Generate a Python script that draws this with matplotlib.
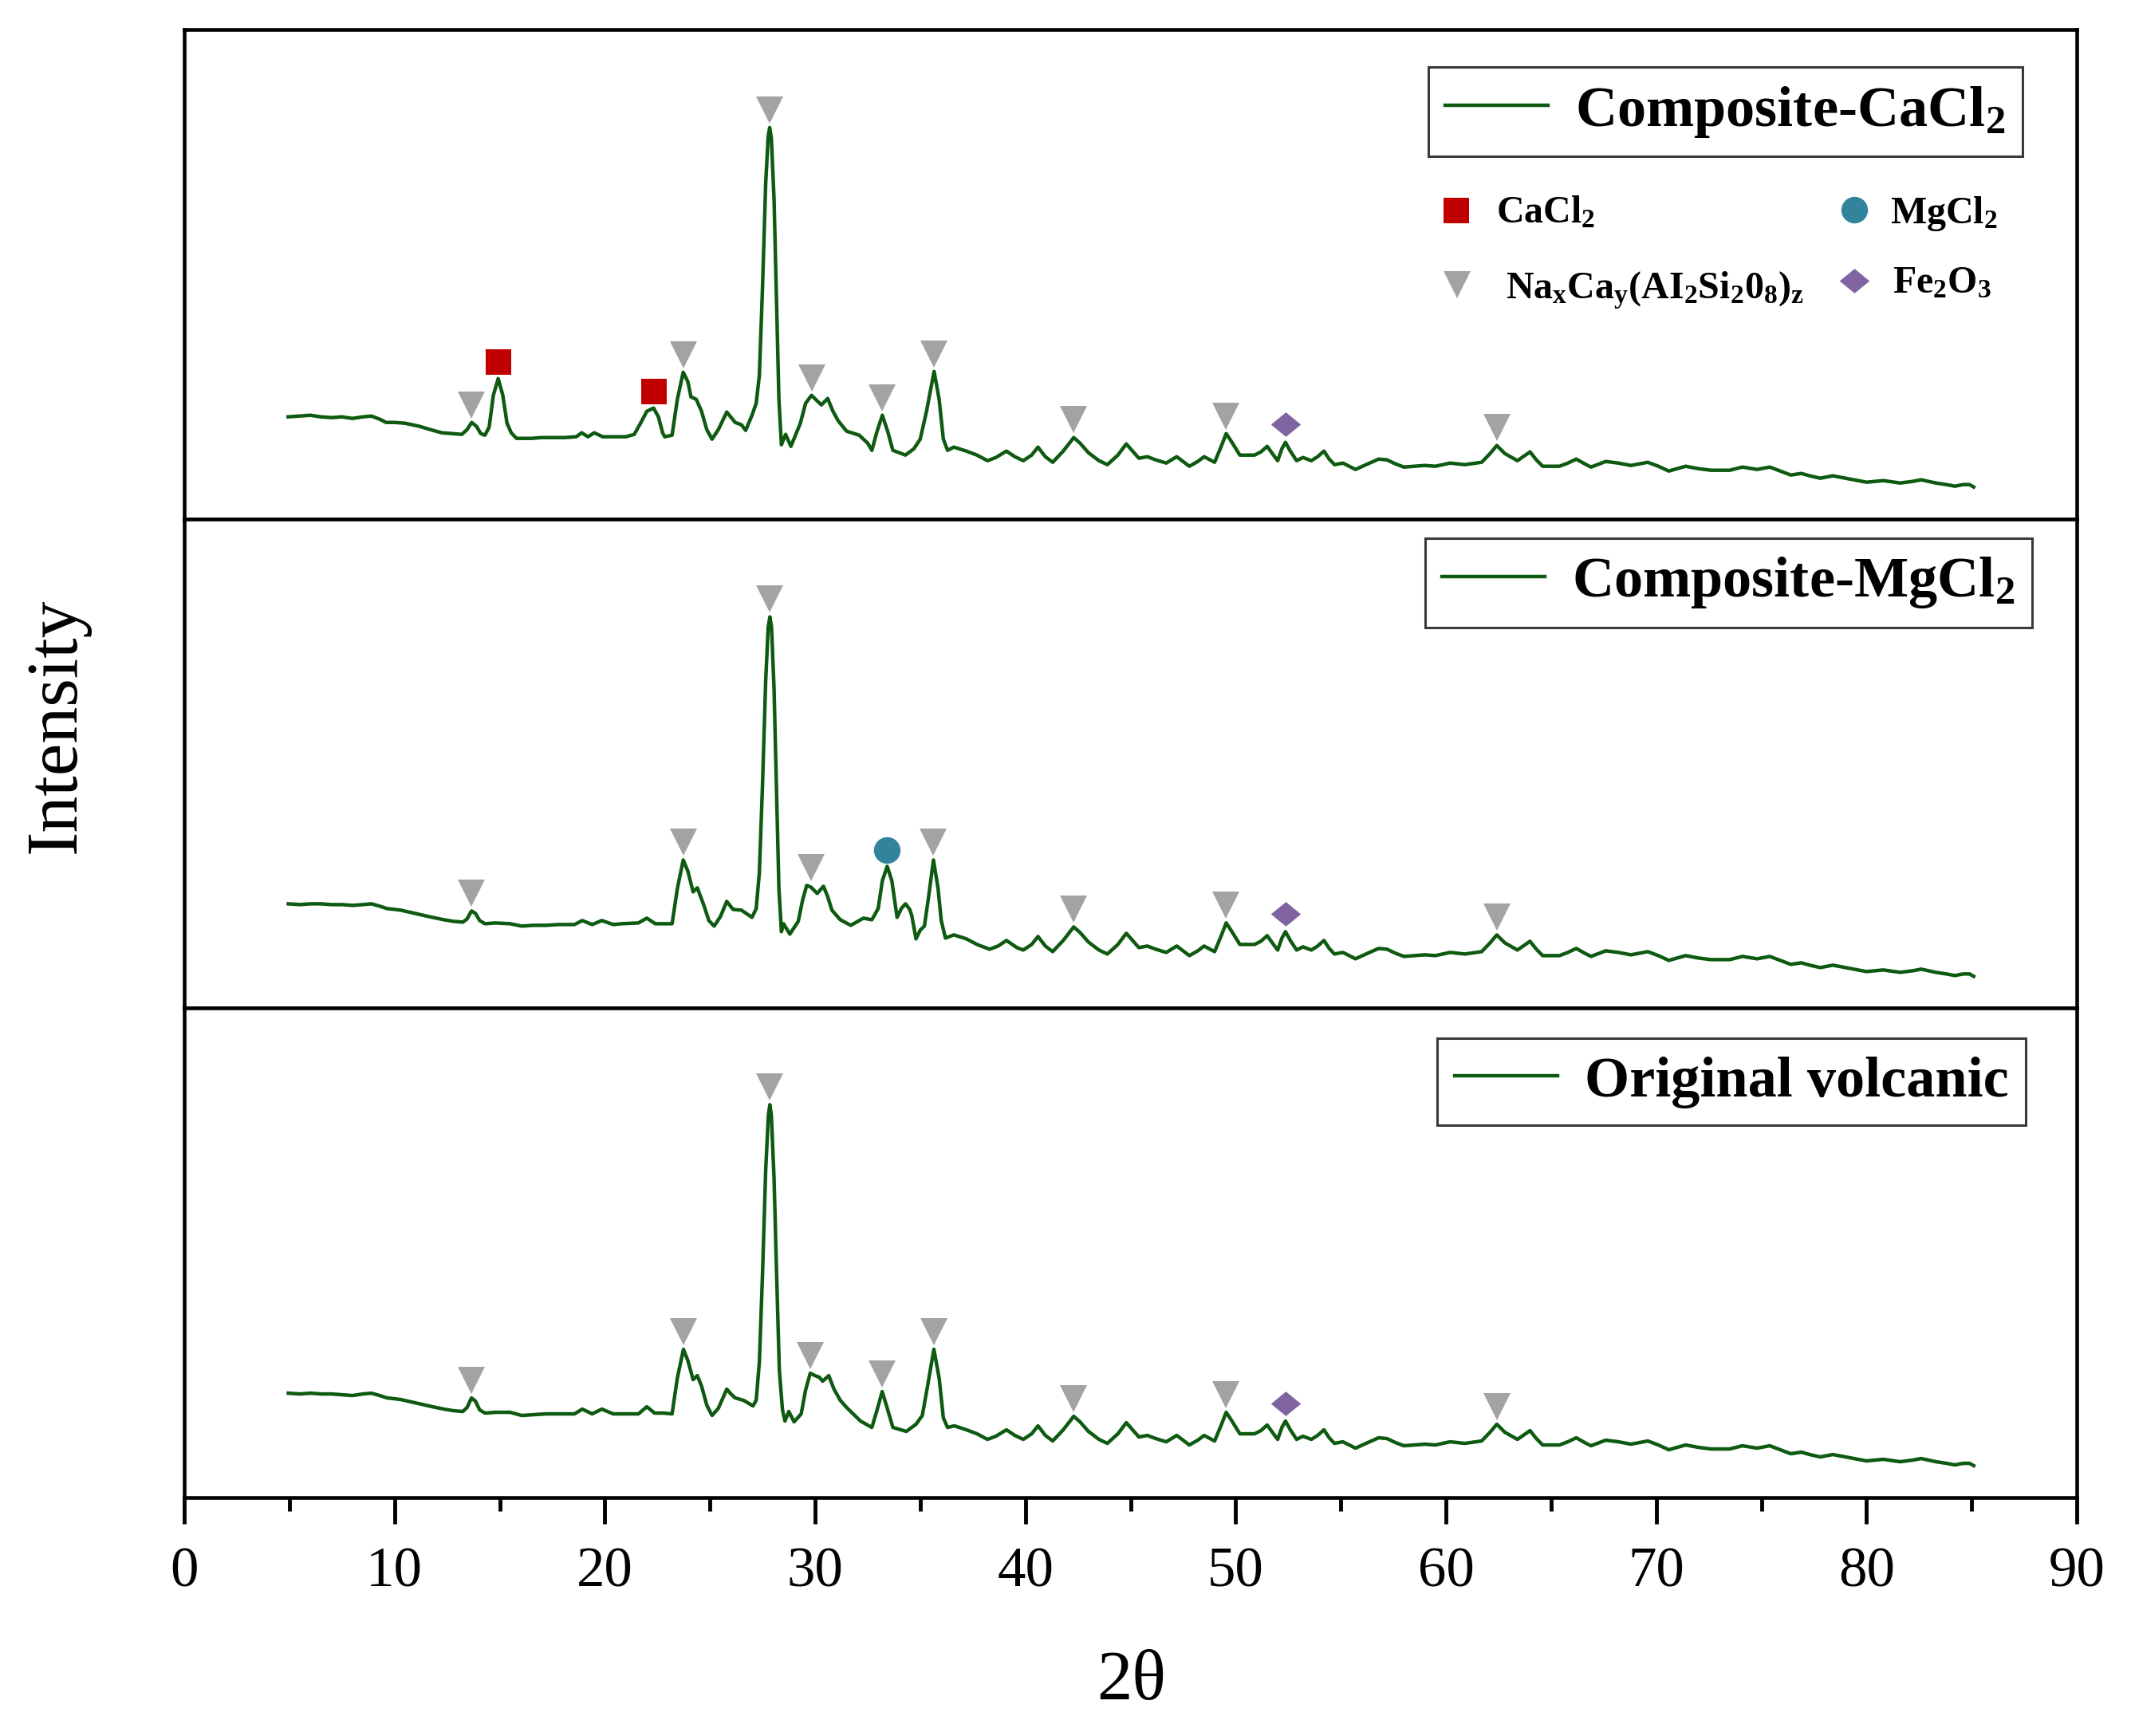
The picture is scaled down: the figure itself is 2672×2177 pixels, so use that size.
import numpy as np
import matplotlib
matplotlib.use("Agg")
import matplotlib.pyplot as plt
from matplotlib.transforms import offset_copy
from matplotlib.path import Path

plt.rcParams['font.family'] = ['Liberation Serif', 'DejaVu Serif']
plt.rcParams['mathtext.fontset'] = 'custom'
plt.rcParams['mathtext.rm'] = 'Liberation Serif'
plt.rcParams['mathtext.bf'] = 'Liberation Serif:bold'
plt.rcParams['mathtext.it'] = 'Liberation Serif:italic'

# ---------------- data (2theta, intensity a.u.) ----------------
ori_theta = [4.95, 5.5, 6.0, 6.5, 7.0, 7.5, 8.0, 8.5, 8.9, 9.3, 9.65, 10.0, 10.3, 10.8, 11.3, 11.8,
             12.35, 12.8, 13.25, 13.45, 13.66, 13.85, 14.05, 14.3, 14.8, 15.5, 16.05, 16.6, 17.2, 17.8,
             18.56, 18.93, 19.4, 19.86, 20.4, 21.0, 21.6, 22.0, 22.37, 22.8, 23.2, 23.45, 23.74, 23.95,
             24.2, 24.4, 24.6, 24.85, 25.1, 25.4, 25.8, 26.0, 26.2, 26.6, 27.05, 27.2, 27.35, 27.5,
             27.65, 27.78, 27.85, 27.92, 28.05, 28.15, 28.3, 28.45, 28.57, 28.75, 29.0, 29.34, 29.55,
             29.77, 30.0, 30.2, 30.36, 30.65, 30.9, 31.2, 31.5, 32.16, 32.7, 32.95, 33.19, 33.4, 33.7,
             34.34, 34.8, 35.1, 35.35, 35.65, 35.9, 36.1, 36.3, 36.63, 37.2, 37.7, 38.2, 38.6, 39.1,
             39.5, 39.9, 40.3, 40.6, 40.95, 41.3, 41.8, 42.3, 42.6, 43.0, 43.5, 43.9, 44.4, 44.8, 45.1,
             45.4, 45.8, 46.2, 46.7, 47.2, 47.5, 47.8, 48.2, 48.5, 49.0, 49.3, 49.55, 49.8, 50.2, 50.9,
             51.2, 51.5, 51.8, 52.0, 52.2, 52.37, 52.6, 52.9, 53.2, 53.6, 53.9, 54.2, 54.45, 54.7, 55.1,
             55.7, 56.2, 56.8, 57.2, 57.6, 58.0, 58.5, 59.0, 59.5, 60.2, 60.9, 61.7, 62.1, 62.42, 62.8,
             63.4, 64.0, 64.3, 64.6, 65.4, 65.8, 66.2, 66.6, 66.9, 67.6, 68.2, 68.8, 69.6, 70.1, 70.6,
             71.0, 71.4, 72.0, 72.6, 73.5, 74.1, 74.8, 75.4, 75.9, 76.4, 76.9, 77.3, 77.8, 78.4, 79.2,
             80.0, 80.8, 81.6, 82.2, 82.6, 83.3, 83.8, 84.2, 84.6, 84.9, 85.1]
ori_int = [131, 130, 131, 130, 130, 129, 128, 130, 131, 128, 125, 124, 123, 120, 117, 114,
           111, 109, 108, 113, 125, 121, 110, 106, 107, 107, 103, 104, 105, 105,
           105, 111, 105, 111, 105, 105, 105, 114, 106, 106, 105, 150, 186, 172,
           148, 153, 140, 116, 103, 112, 136, 130, 125, 122, 115, 122, 170, 280,
           410, 480, 493, 480, 400, 300, 160, 110, 96, 108, 95, 105, 135,
           156, 153, 151, 146, 153, 136, 122, 113, 96, 88, 110, 133, 115, 88,
           83, 92, 103, 140, 186, 150, 100, 88, 90, 85, 80, 73, 77, 85,
           78, 73, 80, 90, 78, 71, 85, 102, 95, 83, 73, 68, 80, 94, 85,
           76, 78, 74, 70, 78, 72, 66, 72, 78, 71, 90, 107, 97, 80, 80,
           84, 91, 80, 73, 88, 96, 85, 73, 77, 73, 78, 85, 75, 68, 70,
           62, 68, 75, 74, 69, 65, 66, 67, 66, 70, 68, 71, 82, 92, 82,
           73, 84, 74, 66, 66, 70, 75, 69, 65, 72, 70, 67, 71, 66, 60,
           63, 66, 63, 61, 61, 65, 62, 65, 60, 55, 57, 54, 51, 54, 50,
           46, 48, 45, 47, 49, 45, 43, 41, 43, 43, 40]

mg_theta = [4.95, 5.5, 6.0, 6.5, 7.0, 7.5, 8.0, 8.5, 8.9, 9.3, 9.65, 10.0, 10.3, 10.8, 11.3, 11.8,
            12.35, 12.8, 13.25, 13.45, 13.66, 13.85, 14.05, 14.3, 14.8, 15.5, 16.05, 16.6, 17.2, 17.8,
            18.56, 18.93, 19.4, 19.86, 20.4, 20.8, 21.6, 22.0, 22.4, 23.2, 23.45, 23.73, 23.95, 24.2,
            24.4, 24.7, 24.95, 25.2, 25.5, 25.8, 26.1, 26.5, 27.0, 27.2, 27.35, 27.5, 27.65, 27.77,
            27.85, 27.93, 28.05, 28.15, 28.28, 28.4, 28.5, 28.8, 29.2, 29.4, 29.6, 29.8, 30.1, 30.4,
            30.6, 30.8, 31.2, 31.7, 32.3, 32.7, 33.0, 33.2, 33.43, 33.65, 33.9, 34.1, 34.3, 34.5, 34.6,
            34.8, 35.0, 35.2, 35.4, 35.63, 35.85, 36.0, 36.2, 36.6, 37.2, 37.7, 38.3, 38.7, 39.1, 39.6,
            39.9, 40.3, 40.6, 40.95, 41.3, 41.8, 42.3, 42.6, 43.0, 43.5, 43.9, 44.4, 44.8, 45.1,
            45.4, 45.8, 46.2, 46.7, 47.2, 47.5, 47.8, 48.2, 48.5, 49.0, 49.3, 49.55, 49.8, 50.2, 50.9,
            51.2, 51.5, 51.8, 52.0, 52.2, 52.37, 52.6, 52.9, 53.2, 53.6, 53.9, 54.2, 54.45, 54.7, 55.1,
            55.7, 56.2, 56.8, 57.2, 57.6, 58.0, 58.5, 59.0, 59.5, 60.2, 60.9, 61.7, 62.1, 62.42, 62.8,
            63.4, 64.0, 64.3, 64.6, 65.4, 65.8, 66.2, 66.6, 66.9, 67.6, 68.2, 68.8, 69.6, 70.1, 70.6,
            71.0, 71.4, 72.0, 72.6, 73.5, 74.1, 74.8, 75.4, 75.9, 76.4, 76.9, 77.3, 77.8, 78.4, 79.2,
            80.0, 80.8, 81.6, 82.2, 82.6, 83.3, 83.8, 84.2, 84.6, 84.9, 85.1]
mg_int = [131, 130, 131, 131, 130, 130, 129, 130, 131, 128, 125, 124, 123, 120, 117, 114,
          111, 109, 108, 112, 122, 119, 110, 106, 107, 106, 103, 104, 104, 105,
          105, 110, 105, 110, 105, 106, 107, 113, 106, 106, 150, 186, 172, 146,
          151, 130, 110, 103, 115, 134, 124, 123, 114, 125, 170, 280, 410, 478,
          491, 478, 400, 290, 150, 96, 106, 93, 109, 135, 154, 152, 144, 153,
          140, 123, 111, 104, 113, 111, 125, 160, 178, 160, 114, 125, 131, 124, 116,
          87, 98, 103, 140, 186, 150, 110, 88, 92, 87, 80, 74, 78, 85, 76,
          73, 80, 90, 78, 71, 85, 102, 95, 83, 73, 68, 80, 94, 85,
          76, 78, 74, 70, 78, 72, 66, 72, 78, 71, 90, 107, 97, 80, 80,
          84, 91, 80, 73, 88, 96, 85, 73, 77, 73, 78, 85, 75, 68, 70,
          62, 68, 75, 74, 69, 65, 66, 67, 66, 70, 68, 71, 82, 92, 82,
          73, 84, 74, 66, 66, 70, 75, 69, 65, 72, 70, 67, 71, 66, 60,
          63, 66, 63, 61, 61, 65, 62, 65, 60, 55, 57, 54, 51, 54, 50,
          46, 48, 45, 47, 49, 45, 43, 41, 43, 43, 40]

ca_theta = [4.94, 5.5, 6.0, 6.5, 7.0, 7.5, 8.0, 8.5, 8.9, 9.3, 9.6, 10.0, 10.5, 11.2, 11.7, 12.25,
            12.7, 13.2, 13.45, 13.67, 13.9, 14.1, 14.3, 14.5, 14.7, 14.93, 15.15, 15.35, 15.55, 15.8,
            16.5, 17.0, 17.5, 18.1, 18.64, 18.9, 19.2, 19.5, 19.9, 20.5, 21.0, 21.4, 21.7, 22.0, 22.32,
            22.55, 22.75, 22.85, 23.2, 23.45, 23.73, 23.95, 24.1, 24.35, 24.6, 24.85, 25.1, 25.4, 25.8,
            26.2, 26.5, 26.7, 27.0, 27.2, 27.35, 27.5, 27.65, 27.77, 27.84, 27.92, 28.05, 28.15, 28.28,
            28.4, 28.6, 28.85, 29.3, 29.55, 29.83, 30.1, 30.3, 30.6, 30.85, 31.1, 31.5, 32.1, 32.5, 32.7,
            32.95, 33.2, 33.45, 33.7, 34.3, 34.7, 35.0, 35.3, 35.66, 35.9, 36.1, 36.3, 36.6, 37.2, 37.7,
            38.2, 38.6, 39.1, 39.5, 39.9, 40.3, 40.6, 40.95, 41.3, 41.8, 42.3, 42.6, 43.0, 43.5, 43.9,
            44.4, 44.8, 45.1, 45.4, 45.8, 46.2, 46.7, 47.2, 47.5, 47.8, 48.2, 48.5, 49.0, 49.3, 49.55,
            49.8, 50.2, 50.9, 51.2, 51.5, 51.8, 52.0, 52.2, 52.37, 52.6, 52.9, 53.2, 53.6, 53.9, 54.2,
            54.45, 54.7, 55.1, 55.7, 56.2, 56.8, 57.2, 57.6, 58.0, 58.5, 59.0, 59.5, 60.2, 60.9, 61.7,
            62.1, 62.42, 62.8, 63.4, 64.0, 64.3, 64.6, 65.4, 65.8, 66.2, 66.6, 66.9, 67.6, 68.2, 68.8,
            69.6, 70.1, 70.6, 71.0, 71.4, 72.0, 72.6, 73.5, 74.1, 74.8, 75.4, 75.9, 76.4, 76.9, 77.3,
            77.8, 78.4, 79.2, 80.0, 80.8, 81.6, 82.2, 82.6, 83.3, 83.8, 84.2, 84.6, 84.9, 85.1]
ca_int = [128, 129, 130, 128, 127, 128, 126, 128, 129, 125, 121, 121, 120, 116, 112, 108,
          107, 106, 112, 121, 116, 107, 105, 115, 155, 176, 155, 120, 108, 101,
          101, 102, 102, 102, 103, 108, 103, 108, 103, 103, 103, 106, 120, 135, 139,
          128, 108, 103, 105, 150, 184, 172, 153, 150, 135, 112, 100, 112, 134,
          121, 118, 111, 130, 145, 180, 290, 420, 480, 491, 478, 400, 290, 150,
          93, 106, 91, 120, 145, 155, 148, 143, 151, 135, 123, 110, 105, 95, 86,
          110, 130, 110, 86, 80, 88, 100, 135, 185, 150, 100, 86, 90, 85, 80,
          73, 77, 85, 78, 73, 80, 90, 78, 71, 85, 102, 95, 83, 73, 68,
          80, 94, 85, 76, 78, 74, 70, 78, 72, 66, 72, 78, 71, 90, 107,
          97, 80, 80, 84, 91, 80, 73, 88, 96, 85, 73, 77, 73, 78, 85,
          75, 68, 70, 62, 68, 75, 74, 69, 65, 66, 67, 66, 70, 68, 71,
          82, 92, 82, 73, 84, 74, 66, 66, 70, 75, 69, 65, 72, 70, 67,
          71, 66, 60, 63, 66, 63, 61, 61, 65, 62, 65, 60, 55, 57, 54,
          51, 54, 50, 46, 48, 45, 47, 49, 45, 43, 41, 43, 43, 40]

sample_names = ['Composite-CaCl$_\\mathbf{2}$', 'Composite-MgCl$_\\mathbf{2}$', 'Original volcanic']

# phase peak positions (2theta) per panel
feldspar_peaks_ca = [13.67, 23.73, 27.84, 29.83, 33.2, 35.66, 42.3, 49.55, 62.42]
feldspar_peaks_mg = [13.66, 23.73, 27.85, 29.8, 35.63, 42.3, 49.55, 62.42]
feldspar_peaks_ori = [13.66, 23.74, 27.85, 29.77, 33.19, 35.65, 42.3, 49.55, 62.42]
cacl2_peaks = [14.93, 22.32]
mgcl2_peaks = [33.43]
fe2o3_peaks = [52.37]

phase_labels = ['CaCl$_\\mathbf{2}$', 'MgCl$_\\mathbf{2}$',
                'Na$_\\mathbf{x}$Ca$_\\mathbf{y}$(AI$_\\mathbf{2}$Si$_\\mathbf{2}$0$_\\mathbf{8}$)$_\\mathbf{z}$',
                'Fe$_\\mathbf{2}$O$_\\mathbf{3}$']
xticks = [0, 10, 20, 30, 40, 50, 60, 70, 80, 90]

# ---------------- styles ----------------
LINE_C = '#0d5a10'
TRI_C = '#a3a3a3'
SQ_C = '#c00000'
CIR_C = '#31849b'
DIA_C = '#8064a2'
diamond = Path([(-1, 0), (0, 0.82), (1, 0), (0, -0.82), (-1, 0)],
               [Path.MOVETO, Path.LINETO, Path.LINETO, Path.LINETO, Path.CLOSEPOLY])
mk = {
    'tri': dict(marker='v', color=TRI_C, ms=24),
    'sq': dict(marker='s', color=SQ_C, ms=23),
    'cir': dict(marker='o', color=CIR_C, ms=24),
    'dia': dict(marker=diamond, color=DIA_C, ms=27),
}

W, H = 2672, 2177
fig = plt.figure(figsize=(W / 100, H / 100), dpi=100)

left = 231 / W
width = (2604 - 231) / W
top = 1 - 37 / H
bot = 1 - 1878 / H
ph = (top - bot) / 3

axes = []
for i in range(3):
    ax = fig.add_axes([left, top - (i + 1) * ph, width, ph])
    axes.append(ax)

series = [(ca_theta, ca_int), (mg_theta, mg_int), (ori_theta, ori_int)]
peak_sets = [
    [('tri', feldspar_peaks_ca), ('sq', cacl2_peaks), ('dia', fe2o3_peaks)],
    [('tri', feldspar_peaks_mg), ('cir', mgcl2_peaks), ('dia', fe2o3_peaks)],
    [('tri', feldspar_peaks_ori), ('dia', fe2o3_peaks)],
]
offsets = {'tri': 16, 'sq': 15, 'cir': 15, 'dia': 16}
legend_anchor = [(0.9713, 0.9235), (0.9764, 0.961), (0.9730, 0.938)]

for i, ax in enumerate(axes):
    th, inten = np.array(series[i][0]), np.array(series[i][1])
    ln, = ax.plot(th, inten, color=LINE_C, lw=3.2, solid_joinstyle='round')
    ax.set_xlim(0, 90)
    ax.set_ylim(0, 614)
    for s in ax.spines.values():
        s.set_linewidth(3.3)
        s.set_color('black')
    ax.set_yticks([])
    if i < 2:
        ax.tick_params(axis='x', which='both', bottom=False, top=False, labelbottom=False)
    else:
        ax.set_xticks(xticks)
        ax.set_xticks(np.arange(5, 90, 10), minor=True)
        ax.tick_params(axis='x', which='major', direction='out', length=24, width=3.5,
                       labelsize=51, pad=20, top=False)
        ax.tick_params(axis='x', which='minor', direction='out', length=12, width=3.5, top=False)
    # peak markers
    for key, peaks in peak_sets[i]:
        tr = offset_copy(ax.transData, fig=fig, x=0, y=offsets[key], units='points')
        for p in peaks:
            sel = (th > p - 0.3) & (th < p + 0.3)
            yp = inten[sel].max()
            st = mk[key]
            ax.plot([p], [yp], linestyle='none', marker=st['marker'], color=st['color'],
                    ms=st['ms'], mew=0, transform=tr, clip_on=False, zorder=5)
    leg = ax.legend([ln], [sample_names[i]], loc='upper right', bbox_to_anchor=legend_anchor[i],
                    borderaxespad=0, prop={'weight': 'bold', 'size': 52}, frameon=True,
                    fancybox=False, edgecolor='#3a3a3a', framealpha=1, handlelength=1.78,
                    handletextpad=0.47, borderpad=0.3)
    leg.get_frame().set_linewidth(2.2)

# phase key in top panel
ax = axes[0]
key_items = [
    ('sq', 0.6721, 0.6303, phase_labels[0], 0.6932, 0.6042),
    ('cir', 0.8824, 0.6319, phase_labels[1], 0.9014, 0.6042),
    ('tri', 0.6726, 0.4788, phase_labels[2], 0.6983, 0.4495),
    ('dia', 0.8824, 0.4870, phase_labels[3], 0.9027, 0.4609),
]
for key, mx, my, lab, tx, ty in key_items:
    st = mk[key]
    ax.plot([mx], [my], linestyle='none', marker=st['marker'], color=st['color'], ms=st['ms'],
            mew=0, transform=ax.transAxes, clip_on=False)
    ax.text(tx, ty, lab, transform=ax.transAxes, fontsize=34.5, fontweight='bold',
            ha='left', va='baseline')

fig.text(71 / W, 1 - 910 / H, 'Intensity', rotation=90, fontsize=66, ha='center', va='center')
fig.text(1419 / W, 1 - 2110 / H, '2θ', fontsize=64, ha='center', va='center')

fig.savefig('out.png', dpi=100, facecolor='white')
